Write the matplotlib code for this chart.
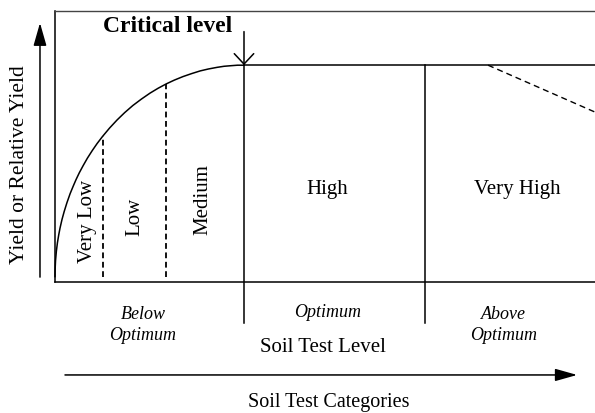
import matplotlib
matplotlib.use("Agg")
import matplotlib.pyplot as plt

plt.rcParams["font.family"] = ["Liberation Serif", "DejaVu Serif"]

# Yield response curve (soil test level vs relative yield)
curve_x = [0, 0.02, 0.1, 0.25, 0.45, 0.7, 0.93, 1.3, 1.7, 2.2, 2.8, 3.4,
           3.9, 4.5, 5.2, 6.0, 6.9, 7.8, 8.8, 10.1, 11.5, 12.9, 14.4, 16.0,
           17.6, 19.1, 20.6, 22.1, 23.7, 25.3, 26.9, 28.4, 30, 31.3, 32.5,
           33.8, 35]
curve_y = [2, 4.6, 7.9, 11.3, 14.5, 17.5, 19.9, 23.1, 26.0, 29.2, 32.6, 35.5,
           37.8, 40.3, 42.9, 45.7, 48.5, 51.1, 53.7, 56.8, 59.8, 62.5, 65.1,
           67.5, 69.7, 71.5, 73.1, 74.5, 75.8, 76.9, 77.9, 78.6, 79.2, 79.6,
           79.8, 80.0, 80]
plateau_y = 80
critical_x = 35
very_high_x = 68.5
class_bounds = [8.8, 20.6]           # Very Low | Low | Medium
decline_x = [80.2, 100]
decline_y = [80, 62.7]

categories = ["Very Low", "Low", "Medium"]
category_x = [6.1, 14.8, 27.4]
category_y = [22.5, 24, 30.3]
upper_categories = ["High", "Very High"]
upper_x = [50.4, 85.6]

ranges = ["Below\nOptimum", "Optimum", "Above\nOptimum"]
range_x = [16.3, 50.4, 83.1]
range_y = [-15.8, -11.4, -15.8]

fig = plt.figure(figsize=(5.95, 4.13), dpi=100)
ax = fig.add_axes([55 / 595, 131 / 413, 540 / 595, 271 / 413])
ax.set_xlim(0, 100)
ax.set_ylim(0, 100)
ax.set_xticks([])
ax.set_yticks([])
ax.spines["right"].set_visible(False)
ax.spines["top"].set_color("#444444")
ax.spines["top"].set_linewidth(1.0)
for s in ["left", "bottom"]:
    ax.spines[s].set_linewidth(1.1)

# response curve and plateau
ax.plot(curve_x, curve_y, color="black", lw=1.1, clip_on=False,
        solid_joinstyle="round")
ax.plot([critical_x, 100], [plateau_y, plateau_y], color="black", lw=1.1,
        clip_on=False)
ax.plot(decline_x, decline_y, color="black", lw=1.0,
        linestyle=(0, (4.3, 2.9)), clip_on=False)

# category boundaries
for bx in class_bounds:
    yi = curve_y[curve_x.index(bx)]
    ax.plot([bx, bx], [1.9, yi], color="black", lw=1.3,
            linestyle=(0, (3.2, 2.0)), clip_on=False)
for vx in [critical_x, very_high_x]:
    ax.plot([vx, vx], [-15.1, plateau_y], color="black", lw=1.1, clip_on=False)

# critical level arrow
ax.annotate("", xy=(critical_x, plateau_y), xytext=(critical_x, 92.4),
            arrowprops=dict(arrowstyle="->,head_length=0.75,head_width=0.7",
                            lw=1.1, color="black", shrinkA=0, shrinkB=0),
            annotation_clip=False)
ax.text(20.9, 94.1, "Critical level", fontsize=17, fontweight="bold",
        ha="center", va="center")

# y-axis arrow and label
ax.annotate("", xy=(-2.78, 95.6), xytext=(-2.78, 1.8),
            arrowprops=dict(arrowstyle="-|>,head_length=1.4,head_width=0.4",
                            lw=1.1, color="black", shrinkA=0, shrinkB=0),
            annotation_clip=False)
ax.text(-6.5, 43.2, "Yield or Relative Yield", fontsize=15.5, rotation=90,
        ha="center", va="center")

# category labels
for lab, x, y in zip(categories, category_x, category_y):
    ax.text(x, y, lab, fontsize=15, rotation=90, ha="center", va="center")
for lab, x in zip(upper_categories, upper_x):
    ax.text(x, 34.3, lab, fontsize=15, ha="center", va="center")

# below axis
for lab, x, y in zip(ranges, range_x, range_y):
    ax.text(x, y, lab, fontsize=13, style="italic", ha="center", va="center",
            linespacing=1.3)
ax.text(49.6, -24, "Soil Test Level", fontsize=15, ha="center", va="center")
ax.annotate("", xy=(96.7, -34.3), xytext=(1.85, -34.3),
            arrowprops=dict(arrowstyle="-|>,head_length=1.35,head_width=0.38",
                            lw=1.1, color="black", shrinkA=0, shrinkB=0),
            annotation_clip=False)
ax.text(50.7, -44.6, "Soil Test Categories", fontsize=14.5, ha="center",
        va="center")

fig.savefig("out.png", dpi=100)
